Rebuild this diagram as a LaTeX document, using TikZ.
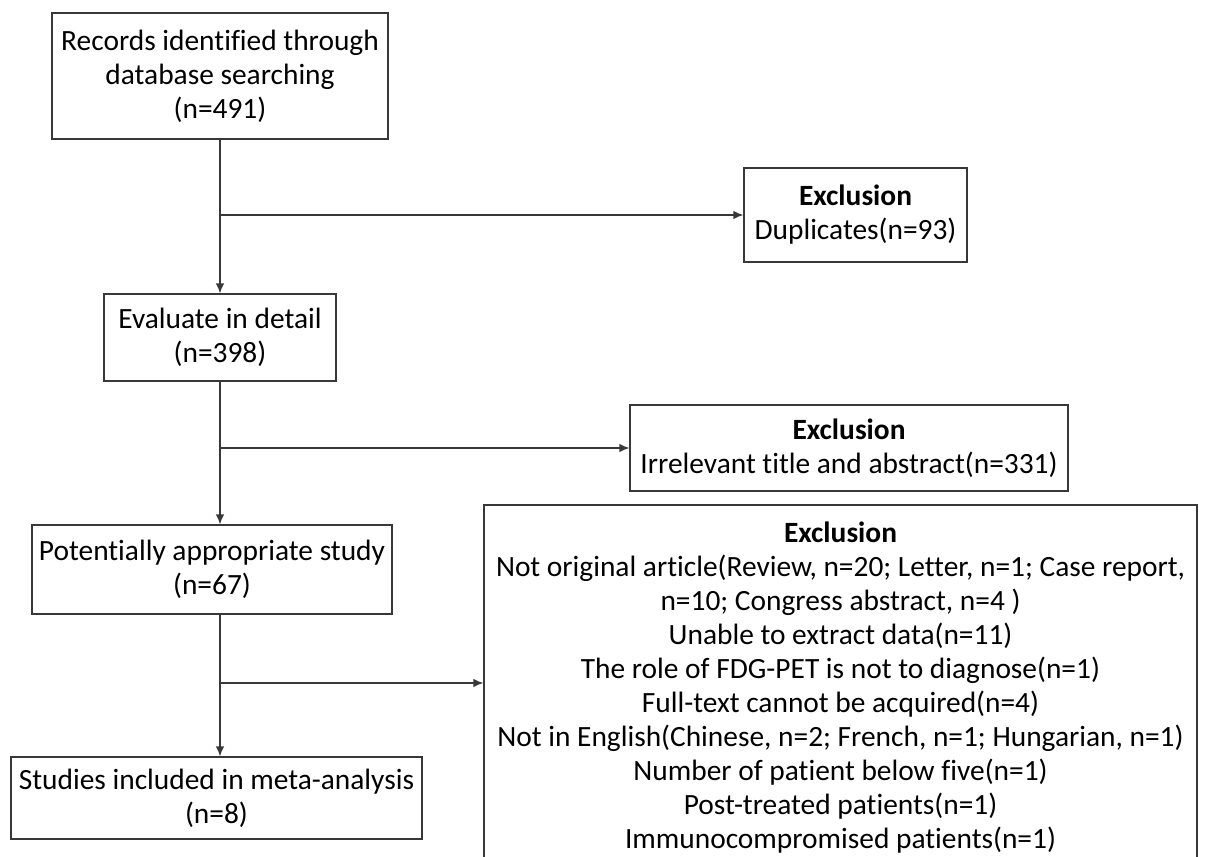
\documentclass[tikz,border=0pt]{standalone}
\usepackage{fontspec}
\setmainfont{Carlito}[Ligatures=CommonOff]
\usetikzlibrary{arrows.meta}

\begin{document}
\begin{tikzpicture}[x=1pt,y=-1pt,
  box/.style={draw=black!78,line width=1.3pt,align=center,inner sep=0pt,
    font=\fontsize{29.4}{34}\selectfont},
  flow/.style={draw=black!78,line width=1.3pt,-{Latex[length=10pt,width=8.5pt]}}]
  \clip (0,0) rectangle (1208,857);
  \fill[white] (0,0) rectangle (1208,857);

  % main column
  \node[box,minimum width=336,minimum height=126] (rec) at (220,76)
    {Records identified through\\database searching\\(n=491)};
  \node[box,minimum width=232,minimum height=87] (eval) at (220,337.5)
    {Evaluate in detail\\(n=398)};
  \node[box,minimum width=360,minimum height=89] (pot) at (212,569.5)
    {Potentially appropriate study\\(n=67)};
  \node[box,minimum width=411,minimum height=82] (stud) at (216.5,798)
    {Studies included in meta-analysis\\(n=8)};

  % exclusions
  \node[box,minimum width=223,minimum height=94] (dup) at (855.5,215)
    {\textbf{Exclusion}\\Duplicates(n=93)};
  \node[box,minimum width=438,minimum height=86] (irr) at (849,448)
    {\textbf{Exclusion}\\Irrelevant title and abstract(n=331)};
  \node[box,minimum width=713,minimum height=366] (excl) at (840.5,688)
    {\textbf{Exclusion}\\
     Not original article(Review, n=20; Letter, n=1; Case report,\\
     n=10; Congress abstract, n=4 )\\
     Unable to extract data(n=11)\\
     The role of FDG-PET is not to diagnose(n=1)\\
     Full-text cannot be acquired(n=4)\\
     Not in English(Chinese, n=2; French, n=1; Hungarian, n=1)\\
     Number of patient below five(n=1)\\
     Post-treated patients(n=1)\\
     Immunocompromised patients(n=1)};

  % connectors
  \draw[flow] (rec.south) -- (eval.north);
  \coordinate (j1) at (rec.south |- dup.west);
  \draw[flow] (j1) -- (dup.west);

  \draw[flow] (eval.south) -- (eval.south |- pot.north);
  \coordinate (j2) at (eval.south |- irr.west);
  \draw[flow] (j2) -- (irr.west);

  \draw[flow] (eval.south |- pot.south) -- (eval.south |- stud.north);
  \coordinate (j3) at (eval.south |- 0,683);
  \draw[flow] (j3) -- (j3 -| excl.west);
\end{tikzpicture}
\end{document}
